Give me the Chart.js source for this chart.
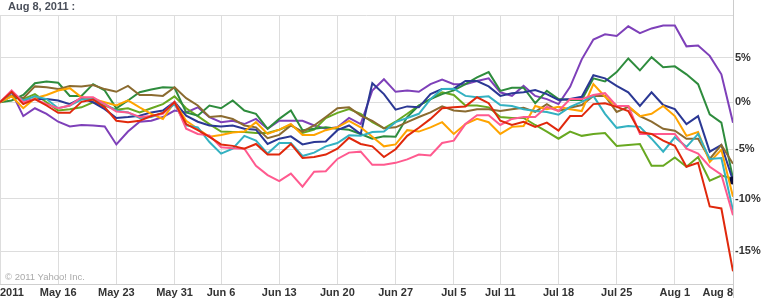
<!DOCTYPE html>
<html>
<head>
<meta charset="utf-8">
<script src="https://cdn.jsdelivr.net/npm/chart.js@4.4.1/dist/chart.umd.min.js"></script>
<style>
  html, body { margin: 0; padding: 0; background: #fff; }
  #wrap { position: relative; width: 764px; height: 298px; }
  #title { position: absolute; left: 8px; top: 0px; font: bold 11px "Liberation Sans", Arial, sans-serif; color: #4a4f5a; white-space: nowrap; }
  #copy { position: absolute; left: 5px; top: 271px; font: 9.5px "Liberation Sans", Arial, sans-serif; color: #aaa; white-space: nowrap; }
</style>
</head>
<body>
<div id="wrap">
  <canvas id="perfChart" width="764" height="298"></canvas>
  <div id="title">Aug 8, 2011 :</div>
  <div id="copy">© 2011 Yahoo! Inc.</div>
</div>
<script>
// trading days May 9 .. Aug 8 2011 (64 sessions), only week starts get a label
var xTickIdx = [0, 5, 10, 15, 19, 24, 29, 34, 39, 43, 48, 53, 58, 63];
var xTickLabels = ["2011", "May 16", "May 23", "May 31", "Jun 6", "Jun 13", "Jun 20",
                   "Jun 27", "Jul 5", "Jul 11", "Jul 18", "Jul 25", "Aug 1", "Aug 8"];
var yTickPcts = [-15, -10, -5, 0, 5, 10];

// % change since May 9
var redVals = [0, 1.15, -0.2, 0.35, -0.35, -1.15, -1.15, 0.05, 0.3, -0.55, -2.0, -2.15, -2.0, -1.5, -1.15, 0, -2.35, -3.0, -3.7, -4.5, -4.65, -4.95, -4.45, -5.55, -5.55, -4.45, -5.9, -5.8, -5.55, -4.95, -3.8, -4.45, -4.7, -5.8, -5.0, -3.6, -2.75, -1.8, -0.65, -0.55, -0.45, 0.55, -0.1, -2.0, -2.45, -2.1, -2.65, -2.2, -3.05, -1.5, -1.5, -0.2, -0.1, -0.5, -0.95, -3.2, -3.4, -4.1, -4.65, -6.8, -6.4, -10.75, -10.95, -16.85];
var pinkVals = [0, 1.3, 0, 0.35, -0.2, -0.65, -0.35, 0.55, 0.55, -0.2, -1.0, -1.1, -1.6, -1.5, -1.25, 0.05, -2.85, -3.4, -3.55, -4.8, -4.9, -4.95, -6.7, -7.65, -8.25, -7.5, -8.8, -7.3, -7.25, -6.0, -5.35, -5.25, -6.6, -6.6, -6.4, -6.05, -5.55, -5.65, -4.35, -4.1, -2.35, -1.4, -1.4, -2.45, -1.8, -1.6, -1.6, -0.5, -0.95, 0.35, 0.35, 0.8, 1.0, -0.4, -0.4, -3.4, -3.4, -3.4, -3.4, -4.95, -5.45, -6.8, -7.6, -11.6];
var tealVals = [0, 1.1, 0.2, 0.65, 0.35, -0.65, -0.35, 0.3, 0.35, -0.2, -0.9, -1.1, -1.7, -1.6, -1.15, -0.2, -2.5, -2.7, -4.25, -5.45, -4.95, -3.6, -4.1, -5.45, -4.35, -4.35, -5.7, -5.35, -4.7, -4.35, -3.55, -3.6, -3.2, -3.15, -2.15, -1.7, -1.25, 0.35, 1.45, 1.5, 0.7, 0.55, 0.65, -0.3, -0.4, -0.75, -0.95, -1.05, -1.35, -0.5, 0.05, 0.7, -1.25, -2.75, -2.55, -2.65, -3.9, -5.25, -3.75, -4.75, -3.4, -6.0, -5.9, -11.15];
var orangeVals = [0, 0.65, -0.65, 0.45, 0.8, 1.3, 1.55, 0.55, 0.35, 0, -0.35, 0.2, -0.55, -1.25, -1.8, 0, -2.0, -2.85, -3.7, -3.5, -3.25, -3.15, -2.15, -3.4, -2.95, -2.35, -3.5, -3.5, -3.0, -2.7, -2.0, -2.7, -3.7, -4.7, -4.5, -3.0, -3.15, -2.7, -2.15, -3.4, -2.35, -1.8, -2.15, -3.4, -2.65, -2.55, -0.4, -0.75, -0.5, -0.75, -0.95, 2.0, 0.6, -0.4, -0.4, -1.5, -1.25, -0.4, -1.5, -3.6, -3.2, -6.3, -5.05, -9.8];
var brownVals = [0, 0.7, 0.45, 1.75, 1.65, 1.45, 1.8, 1.75, 1.9, 1.45, 1.15, 1.8, 0.8, 0.8, 0.7, 1.65, 0.45, -0.35, -1.6, -1.5, -1.8, -2.5, -2.7, -3.85, -3.5, -2.5, -3.15, -2.5, -1.6, -0.65, -0.55, -1.45, -2.0, -2.8, -2.7, -2.15, -1.6, -1.1, -0.45, -0.9, -1.0, -0.75, -0.75, -0.95, -0.75, -0.6, -1.05, -0.2, -0.95, -0.6, -0.3, 0.7, 0.7, -1.05, -0.5, -1.5, -2.1, -2.85, -3.05, -3.9, -3.9, -6.0, -4.55, -6.5];
var navyVals = [0, 1.1, 0.05, 0.35, 0.35, 0.2, -0.2, 0.45, 0, -0.75, -1.7, -1.6, -1.45, -1.1, -0.9, 0.05, -1.45, -2.1, -2.5, -2.6, -2.5, -2.85, -2.95, -4.45, -3.9, -3.65, -4.5, -4.25, -4.2, -3.0, -2.5, -3.4, 2.1, 0.9, -0.8, -0.45, -0.55, 0.9, 1.45, 1.5, 2.35, 2.35, 1.75, 0.7, 1.0, 1.1, 1.35, 0.9, 0.25, 0.35, 0.6, 3.0, 2.65, 1.8, 1.1, -0.4, 1.1, -0.3, -0.75, -2.35, -1.5, -5.25, -4.55, -8.2];
var greenVals = [0, 0.2, 0.8, 2.1, 2.3, 2.15, 0.7, 0.7, 2.0, 1.3, -0.65, 0.2, 1.1, 1.4, 1.65, 1.6, -1.1, -1.45, -0.35, -0.65, 0.2, -0.9, -1.25, -2.85, -1.8, -0.9, -3.0, -2.85, -2.7, -2.85, -2.95, -3.4, -3.9, -3.65, -3.7, -1.6, -0.35, 0.35, 0.9, 1.3, 2.0, 2.75, 3.35, 1.25, 1.6, 1.6, -0.1, 1.25, 0.35, 0.25, 0.25, 2.65, 2.3, 3.35, 4.9, 3.55, 5.05, 3.9, 4.0, 3.1, 2.0, -1.3, -2.2, -8.0];
var limeVals = [0, 0.7, 0.35, 0.9, 0, -0.9, -0.75, -0.55, 0, -0.35, -0.8, -0.65, -1.1, -0.65, -0.2, 0.65, -0.65, -1.5, -2.35, -3.15, -3.2, -3.2, -3.3, -3.3, -2.95, -2.45, -3.3, -2.95, -1.7, -1.15, -0.75, -1.25, -2.15, -2.8, -2.1, -1.25, -0.35, 0.35, 1.1, 0.8, -0.35, -0.35, -0.55, -1.6, -1.7, -1.7, -2.45, -3.15, -3.9, -3.15, -3.6, -3.4, -3.3, -4.65, -4.55, -4.45, -6.7, -6.7, -5.85, -6.8, -5.8, -8.2, -7.7, -8.0];
var purpleVals = [0, 1.1, -1.5, -0.65, -1.26, -2.1, -2.6, -2.45, -2.5, -2.6, -4.5, -3.15, -2.1, -2.0, -1.6, -0.9, -1.1, -0.55, -1.6, -2.15, -2.0, -2.35, -1.8, -2.85, -2.0, -2.0, -2.0, -2.5, -2.85, -2.7, -1.7, -2.35, 1.3, 2.55, 1.15, 1.3, 1.15, 2.0, 2.5, 2.0, 2.0, 2.35, 2.65, 1.1, 0.7, 1.8, 0.7, 0.35, -0.2, 1.7, 4.8, 7.1, 7.7, 7.5, 8.65, 7.85, 8.4, 8.75, 8.75, 6.3, 6.4, 5.2, 3.1, -2.2];

var gridColor = "#dddddd";
var labelFont = { family: "'Liberation Sans', Arial, sans-serif", size: 11, weight: "bold" };

// y is the growth factor (1 + pct/100) so the log axis spaces it like the original
function toPoints(vals) {
  return vals.map(function (v, i) { return { x: i, y: 1 + v / 100 }; });
}

function makeLine(vals, color) {
  return {
    data: toPoints(vals),
    borderColor: color,
    backgroundColor: color,
    borderWidth: 2,
    pointRadius: 0,
    tension: 0,
    fill: false,
  };
}

var navyLine = makeLine(navyVals, "#2b3894");
navyLine.pointRadius = function (ctx) { return ctx.dataIndex === navyVals.length - 1 ? 4 : 0; };
navyLine.pointBackgroundColor = "#0a0a3a";
navyLine.pointBorderWidth = 0;

// full height line on the right edge of the plot
const edgeLine = {
  id: "edgeLine",
  afterDraw(chart) {
    const ctx = chart.ctx;
    const x = Math.round(chart.chartArea.right) + 0.5;
    ctx.save();
    ctx.strokeStyle = "#cccccc";
    ctx.lineWidth = 1;
    ctx.beginPath();
    ctx.moveTo(x, 0);
    ctx.lineTo(x, chart.height);
    ctx.stroke();
    ctx.restore();
  },
};

const perfChart = new Chart(document.getElementById("perfChart"), {
  type: "line",
  data: {
    datasets: [
      makeLine(redVals, "#e0280c"),
      makeLine(pinkVals, "#ff5a8f"),
      makeLine(tealVals, "#33b1c1"),
      makeLine(orangeVals, "#ffa400"),
      makeLine(brownVals, "#8b6b30"),
      navyLine,
      makeLine(greenVals, "#2e8c3d"),
      makeLine(limeVals, "#68a820"),
      makeLine(purpleVals, "#7e40b9"),
    ],
  },
  options: {
    responsive: false,
    animation: false,
    layout: { autoPadding: false, padding: { top: 15, left: 0, right: 0, bottom: 0 } },
    plugins: {
      legend: { display: false },
      tooltip: { enabled: false },
      title: { display: false },
    },
    scales: {
      x: {
        type: "linear",
        min: 0,
        max: 63,
        afterBuildTicks: function (s) {
          s.ticks = xTickIdx.map(function (v) { return { value: v }; });
        },
        afterFit: function (s) {
          s.height = 14;
          s.paddingLeft = 0;
          s.paddingRight = 0;
        },
        grid: { color: gridColor, drawTicks: false },
        border: { color: "#cfcfcf" },
        ticks: {
          autoSkip: false,
          maxRotation: 0,
          align: "inner",
          padding: 2,
          color: "#333",
          font: labelFont,
          callback: function (value) {
            return xTickLabels[xTickIdx.indexOf(value)];
          },
        },
      },
      y: {
        type: "logarithmic",
        position: "right",
        min: 0.822,
        max: 1.1,
        afterBuildTicks: function (s) {
          s.ticks = yTickPcts.map(function (p) { return { value: 1 + p / 100 }; });
        },
        afterFit: function (s) {
          s.width = 31;
          s.paddingTop = 0;
          s.paddingBottom = 0;
        },
        grid: { color: gridColor, drawTicks: false },
        border: { color: "#cccccc" },
        ticks: {
          padding: 2,
          color: "#333",
          font: labelFont,
          callback: function (value) {
            var p = Math.round((value - 1) * 100);
            return p === 10 ? "" : p + "%";
          },
        },
      },
    },
  },
  plugins: [edgeLine],
});
</script>
</body>
</html>
